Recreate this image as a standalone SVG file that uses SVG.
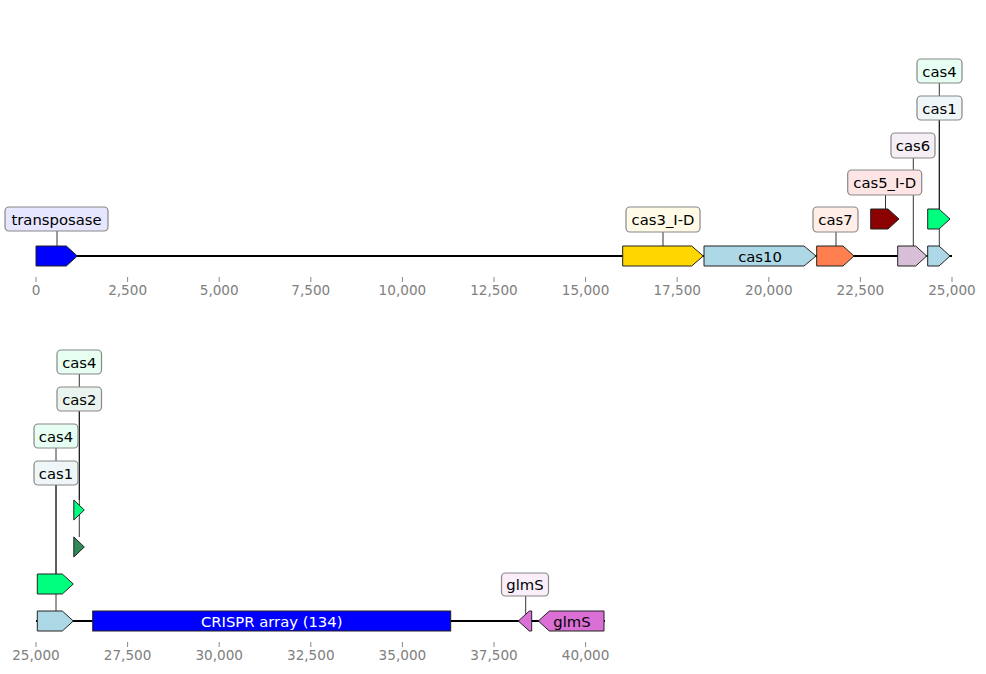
<svg xmlns="http://www.w3.org/2000/svg" width="986" height="674" viewBox="0 0 986 674">
<style>
text{font-family:"DejaVu Sans","Liberation Sans",sans-serif}
.lbl{font-size:14.8px;fill:#000;text-anchor:middle;dominant-baseline:central}
.box{stroke:#888;stroke-width:1.2}
.gene{stroke:#222;stroke-width:1}
.conn{stroke:#000;stroke-width:0.8;fill:none}
.bb{stroke:#000;stroke-width:2;fill:none}
.tick{stroke:#888;stroke-width:1}
.tl{font-size:13.6px;fill:#808080;text-anchor:middle}
</style>
<rect width="986" height="674" fill="#fff"/>
<g id="axes">
<line class="bb" x1="36" y1="256" x2="952" y2="256"/>
<line class="bb" x1="36" y1="621" x2="605" y2="621"/>
<g class="tick">
<line x1="36" y1="277" x2="36" y2="282"/><line x1="127.6" y1="277" x2="127.6" y2="282"/><line x1="219.2" y1="277" x2="219.2" y2="282"/><line x1="310.8" y1="277" x2="310.8" y2="282"/><line x1="402.4" y1="277" x2="402.4" y2="282"/><line x1="494" y1="277" x2="494" y2="282"/><line x1="585.6" y1="277" x2="585.6" y2="282"/><line x1="677.2" y1="277" x2="677.2" y2="282"/><line x1="768.8" y1="277" x2="768.8" y2="282"/><line x1="860.4" y1="277" x2="860.4" y2="282"/><line x1="952" y1="277" x2="952" y2="282"/>
<line x1="36" y1="642" x2="36" y2="647"/><line x1="127.6" y1="642" x2="127.6" y2="647"/><line x1="219.2" y1="642" x2="219.2" y2="647"/><line x1="310.8" y1="642" x2="310.8" y2="647"/><line x1="402.4" y1="642" x2="402.4" y2="647"/><line x1="494" y1="642" x2="494" y2="647"/><line x1="585.6" y1="642" x2="585.6" y2="647"/>
</g>
<g class="tl">
<text x="36" y="295">0</text><text x="127.6" y="295">2,500</text><text x="219.2" y="295">5,000</text><text x="310.8" y="295">7,500</text><text x="402.4" y="295">10,000</text><text x="494" y="295">12,500</text><text x="585.6" y="295">15,000</text><text x="677.2" y="295">17,500</text><text x="768.8" y="295">20,000</text><text x="860.4" y="295">22,500</text><text x="952" y="295">25,000</text>
<text x="36" y="660">25,000</text><text x="127.6" y="660">27,500</text><text x="219.2" y="660">30,000</text><text x="310.8" y="660">32,500</text><text x="402.4" y="660">35,000</text><text x="494" y="660">37,500</text><text x="585.6" y="660">40,000</text>
</g>
</g>
<g id="connectors" class="conn">
<line x1="57" y1="231" x2="57" y2="246"/>
<line x1="663" y1="232" x2="663" y2="246"/>
<line x1="836" y1="232" x2="836" y2="246"/>
<line x1="885.5" y1="195" x2="885.5" y2="209"/>
<line x1="913.3" y1="157" x2="913.3" y2="246"/>
<line x1="939.3" y1="120" x2="939.3" y2="246"/>
<line x1="939.3" y1="83" x2="939.3" y2="209"/>
<line x1="56" y1="485" x2="56" y2="611"/>
<line x1="56" y1="448" x2="56" y2="574"/>
<line x1="79.3" y1="411" x2="79.3" y2="537"/>
<line x1="79.3" y1="374" x2="79.3" y2="500"/>
<line x1="525.7" y1="595" x2="525.7" y2="616"/>
</g>
<g id="gene-transposase"><polygon class="gene" fill="#0000FF" points="36,246 66.3,246 77.3,256 66.3,266 36,266"/></g>
<g id="gene-cas3"><polygon class="gene" fill="#FFD700" points="622.7,246 691.7,246 703.3,256 691.7,266 622.7,266"/></g>
<g id="gene-cas10"><polygon class="gene" fill="#ADD8E6" points="704,246 804,246 816,256 804,266 704,266"/><text class="lbl" x="760" y="256">cas10</text></g>
<g id="gene-cas7"><polygon class="gene" fill="#FF7F50" points="816.7,246 843,246 854,256 843,266 816.7,266"/></g>
<g id="gene-cas5"><polygon class="gene" fill="#8B0000" points="870.7,209 888,209 899,219 888,229 870.7,229"/></g>
<g id="gene-cas6"><polygon class="gene" fill="#D8BFD8" points="897.7,246 915.7,246 926.7,256 915.7,266 897.7,266"/></g>
<g id="gene-cas1-top"><polygon class="gene" fill="#ADD8E6" points="927.7,246 939,246 950,256 939,266 927.7,266"/></g>
<g id="gene-cas4-top"><polygon class="gene" fill="#00FF7F" points="927.7,209 939,209 950,219 939,229 927.7,229"/></g>
<g id="gene-cas1-bot"><polygon class="gene" fill="#ADD8E6" points="37.3,611 62.3,611 73.3,621 62.3,631 37.3,631"/></g>
<g id="gene-cas4-bot"><polygon class="gene" fill="#00FF7F" points="37.3,574 62.3,574 73.3,584 62.3,594 37.3,594"/></g>
<g id="gene-cas2"><polygon class="gene" fill="#2E8B57" points="73.8,537 84.3,547 73.8,557"/></g>
<g id="gene-cas4-small"><polygon class="gene" fill="#00FF7F" points="73.8,500 84.3,510 73.8,520"/></g>
<g id="gene-crispr"><rect class="gene" fill="#0000FF" x="92.7" y="611" width="358" height="20"/><text class="lbl" x="271.7" y="621" style="fill:#fff">CRISPR array (134)</text></g>
<g id="gene-glmS-small"><polygon class="gene" fill="#DA70D6" points="531.7,611 529.3,611 518.3,621 529.3,631 531.7,631"/></g>
<g id="gene-glmS"><polygon class="gene" fill="#DA70D6" points="604,611 549.3,611 538.3,621 549.3,631 604,631"/><text class="lbl" x="572" y="621">glmS</text></g>
<g id="label-transposase"><rect class="box" fill="#E6E6FF" x="5" y="207" width="103" height="24" rx="4"/><text class="lbl" x="56.5" y="219">transposase</text></g>
<g id="label-cas3"><rect class="box" fill="#FFFBE6" x="626" y="207" width="74" height="25" rx="4"/><text class="lbl" x="663" y="219">cas3_I-D</text></g>
<g id="label-cas7"><rect class="box" fill="#FFEEE8" x="813" y="207" width="45" height="25" rx="4"/><text class="lbl" x="835.5" y="219">cas7</text></g>
<g id="label-cas5"><rect class="box" fill="#FDE5E5" x="847.7" y="170" width="74" height="25" rx="4"/><text class="lbl" x="884.7" y="182">cas5_I-D</text></g>
<g id="label-cas6"><rect class="box" fill="#F5EEF5" x="891" y="133" width="44" height="25" rx="4"/><text class="lbl" x="913" y="145">cas6</text></g>
<g id="label-cas1-top"><rect class="box" fill="#EEF6F8" x="917" y="96" width="45" height="24" rx="4"/><text class="lbl" x="939.5" y="108">cas1</text></g>
<g id="label-cas4-top"><rect class="box" fill="#E6FFF2" x="917" y="59" width="45" height="24" rx="4"/><text class="lbl" x="939.5" y="71">cas4</text></g>
<g id="label-cas1-bot"><rect class="box" fill="#EEF6F8" x="34" y="461" width="44" height="24" rx="4"/><text class="lbl" x="56" y="473">cas1</text></g>
<g id="label-cas4-bot"><rect class="box" fill="#E6FFF2" x="34" y="424" width="44" height="24" rx="4"/><text class="lbl" x="56" y="436">cas4</text></g>
<g id="label-cas2"><rect class="box" fill="#EAF4EE" x="57" y="387" width="44.5" height="24" rx="4"/><text class="lbl" x="79.3" y="399">cas2</text></g>
<g id="label-cas4-small"><rect class="box" fill="#E6FFF2" x="57" y="350" width="44.5" height="24" rx="4"/><text class="lbl" x="79.3" y="362">cas4</text></g>
<g id="label-glmS"><rect class="box" fill="#FBEEFB" x="501.5" y="573" width="47" height="23" rx="4"/><text class="lbl" x="525" y="584">glmS</text></g>
</svg>
